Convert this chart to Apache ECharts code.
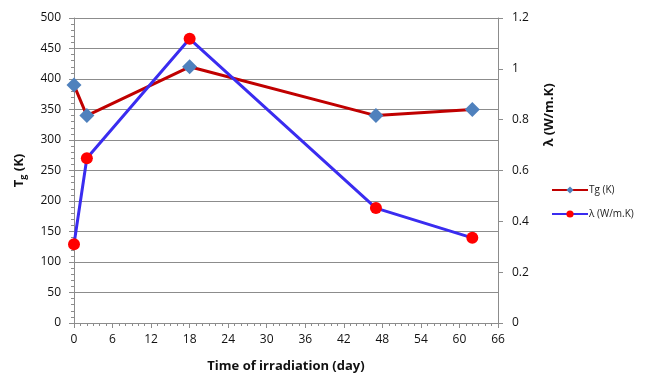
<!DOCTYPE html>
<html><head><meta charset="utf-8">
<script src="https://cdn.jsdelivr.net/npm/echarts@6/dist/echarts.min.js"></script>
<style>html,body{margin:0;padding:0;background:#fff}#c{width:651px;height:375px}</style>
</head><body><div id="c"></div>
<script>
const days = [0, 2, 18, 47, 62];
const tgValues = [390, 340, 420, 340, 350];
const lambdaValues = [0.31, 0.648, 1.118, 0.452, 0.335];
const seriesNames = ['Tg (K)', 'λ (W/m.K)'];
const xTitle = 'Time of irradiation (day)';
const rightTitle = 'λ (W/m.K)';

const FONT = '"Open Sans", "Liberation Sans", sans-serif';
const axisGray = '#8c8c8c';
const chart = echarts.init(document.getElementById('c'));
chart.setOption({
  animation: false,
  textStyle: {fontFamily: FONT},
  grid: {left: 74, right: 153, top: 18, bottom: 52, containLabel: false, outerBoundsMode: 'none'},
  graphic: [{
    type: 'text', x: 549, y: 115, rotation: Math.PI / 2,
    style: {text: rightTitle, fontSize: 13, fontWeight: 'bold', fill: '#111',
      fontFamily: FONT, align: 'center', verticalAlign: 'middle'}
  }],
  legend: {
    orient: 'vertical', left: 546, top: 180, itemGap: 14,
    itemWidth: 36, itemHeight: 9,
    textStyle: {fontSize: 10, color: '#222', fontFamily: FONT, padding: [0, 0, 0, -4]},
    data: seriesNames
  },
  xAxis: {
    type: 'value', min: 0, max: 66, interval: 6,
    name: xTitle, nameLocation: 'middle', nameGap: 37,
    nameTextStyle: {fontSize: 13, fontWeight: 'bold', color: '#111', fontFamily: FONT},
    axisLine: {lineStyle: {color: axisGray, width: 1}},
    axisTick: {show: true, length: 5, lineStyle: {color: axisGray}},
    minorTick: {show: true, splitNumber: 6, length: 3, lineStyle: {color: axisGray}},
    axisLabel: {fontSize: 12, color: '#111', margin: 11},
    splitLine: {show: false}
  },
  yAxis: [{
    type: 'value', min: 0, max: 500, interval: 50, position: 'left',
    name: '{a|T}{b|g}{a| (K)}', nameLocation: 'middle', nameGap: 46, nameRotate: 90,
    nameTextStyle: {
      rich: {
        a: {fontSize: 13, fontWeight: 'bold', color: '#111', fontFamily: FONT},
        b: {fontSize: 9, fontWeight: 'bold', color: '#111', fontFamily: FONT, padding: [8, 0, 0, 0]}
      }
    },
    axisLine: {show: true, lineStyle: {color: axisGray}},
    axisTick: {show: true, length: 5, lineStyle: {color: axisGray}},
    minorTick: {show: true, splitNumber: 5, length: 3, lineStyle: {color: axisGray}},
    axisLabel: {fontSize: 12, color: '#111', margin: 13},
    splitLine: {show: true, lineStyle: {color: '#8c8c8c', width: 1}}
  }, {
    type: 'value', min: 0, max: 1.2, interval: 0.2, position: 'right',
    axisLine: {show: true, lineStyle: {color: axisGray}},
    axisTick: {show: true, length: 5, lineStyle: {color: axisGray}},
    axisLabel: {fontSize: 12, color: '#111', margin: 14,
      formatter: v => String(Math.round(v * 10) / 10)},
    splitLine: {show: false}
  }],
  series: [{
    name: seriesNames[0], type: 'line', yAxisIndex: 0,
    data: days.map((d, i) => [d, tgValues[i]]),
    lineStyle: {color: '#c00000', width: 3},
    itemStyle: {color: '#4f81bd'},
    symbol: 'diamond', symbolSize: 15, showAllSymbol: true
  }, {
    name: seriesNames[1], type: 'line', yAxisIndex: 1,
    data: days.map((d, i) => [d, lambdaValues[i]]),
    lineStyle: {color: '#3a2cf0', width: 3},
    itemStyle: {color: '#ff0000'},
    symbol: 'circle', symbolSize: 12, showAllSymbol: true
  }]
});
</script></body></html>
